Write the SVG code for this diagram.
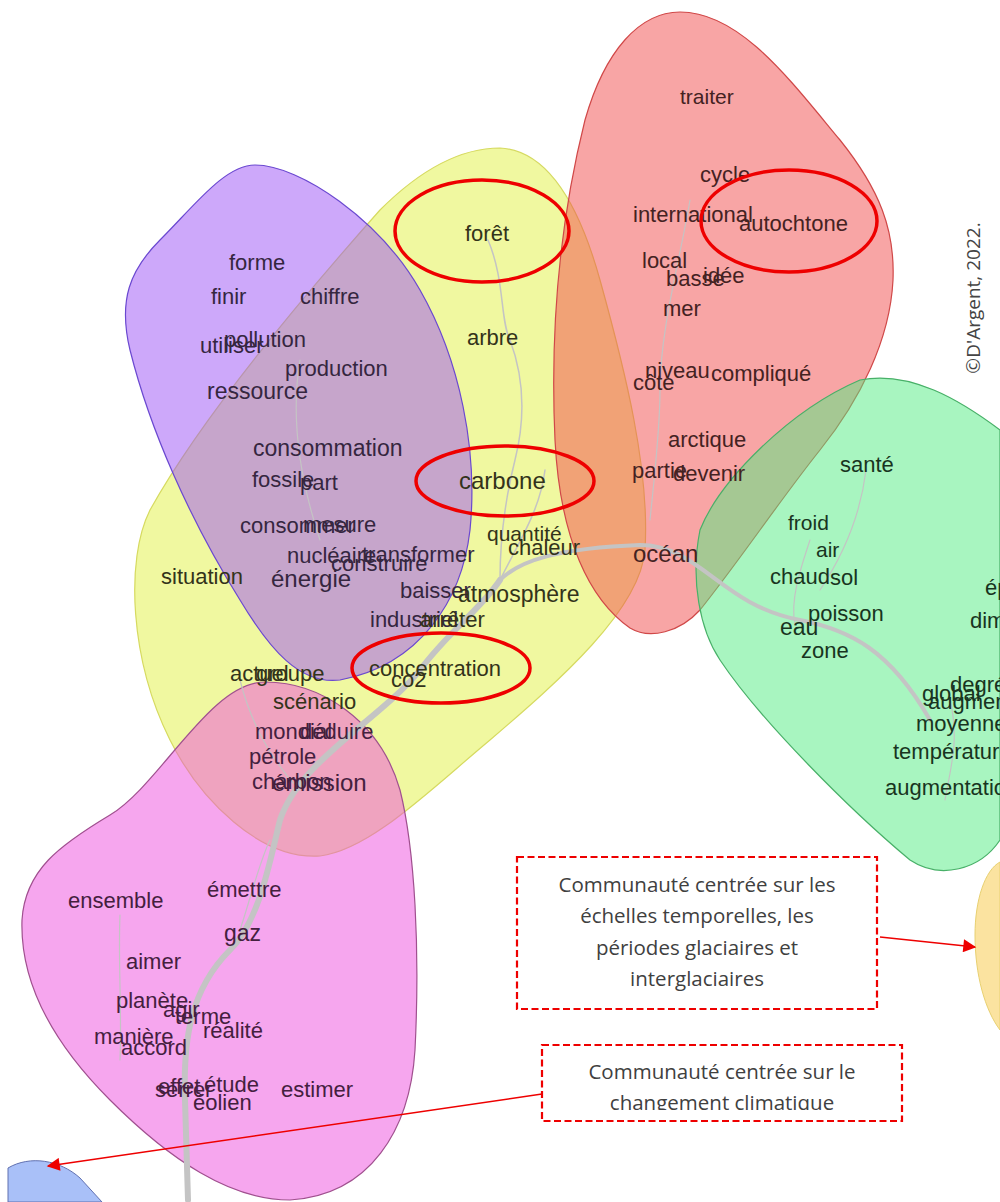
<svg xmlns="http://www.w3.org/2000/svg" width="1000" height="1202" viewBox="0 0 1000 1202">
<defs>
<style>
.b{fill-opacity:0.5;stroke-width:1.2}
.w{font-family:"Liberation Sans",Arial,sans-serif;font-size:22px}
.pu{fill:#35263f}.ye{fill:#33331a}.re{fill:#442222}.gr{fill:#183420}.pk{fill:#44203e}
.e{fill:none;stroke:#c4c4c4;stroke-linecap:round}
.ring{fill:none;stroke:#ee0000;stroke-width:3.5}
.box{fill:#fff;stroke:#ee0000;stroke-width:2.2;stroke-dasharray:7,3.5}
.bt{font-family:"Open Sans","Noto Sans",sans-serif;font-size:20.5px;fill:#404040;text-anchor:middle}
.arr{stroke:#ee0000;stroke-width:1.5;fill:none}
</style>
<marker id="ah" viewBox="0 0 10 10" refX="9" refY="5" markerWidth="15" markerHeight="13" orient="auto" markerUnits="userSpaceOnUse">
<path d="M0,0 L10,5 L0,10 Z" fill="#ee0000"/>
</marker>
<clipPath id="c2"><rect x="540" y="1040" width="370" height="70"/></clipPath>
</defs>
<rect width="1000" height="1202" fill="#fff"/>

<g id="blobs">
<path id="blob-yellow" class="b" fill="#e1f141" stroke="#d6da60" d="M500,148 C540,150 575,190 600,280 C625,370 650,470 645,550 C640,610 560,680 490,740 C430,790 370,850 320,856 C260,860 200,800 170,740 C130,660 125,560 150,510 C200,420 300,300 380,210 C420,170 460,148 500,148 Z"/>
<path id="blob-purple" class="b" fill="#9b51f5" stroke="#6a48d0" d="M255,165 C300,165 380,220 420,290 C460,360 478,450 470,530 C462,600 420,665 340,680 C300,685 270,650 240,600 C190,520 150,430 130,350 C118,300 130,270 160,240 C195,205 225,165 255,165 Z"/>
<path id="blob-red" class="b" fill="#f14b4b" stroke="#d04848" d="M680,12 C740,12 790,80 840,140 C880,190 895,230 893,280 C890,340 860,400 820,450 C780,500 740,560 700,610 C680,632 650,640 630,628 C590,600 560,540 555,440 C550,330 560,220 585,120 C605,50 640,12 680,12 Z"/>
<path id="blob-green" class="b" fill="#51eb81" stroke="#48b068" d="M700,530 C720,480 790,410 860,380 C910,370 960,400 1000,430 L1000,840 C980,870 940,880 910,860 C850,810 760,720 720,660 C700,630 690,580 700,530 Z"/>
<path id="blob-pink" class="b" fill="#ed4ddd" stroke="#a0508f" d="M265,682 C320,682 380,720 400,790 C415,850 420,950 415,1050 C410,1130 370,1195 290,1200 C230,1200 170,1160 110,1100 C50,1040 20,980 22,920 C25,870 60,845 110,815 C160,785 210,682 265,682 Z"/>
<path id="blob-orange" fill="#fbe3a0" stroke="#e8d070" stroke-width="1" d="M1000,862 C985,870 975,900 975,935 C975,975 985,1010 1000,1030 Z"/>
<path id="blob-blue" fill="#a9c0f8" stroke="#6070b0" stroke-width="1" d="M8,1168 C30,1155 60,1160 80,1178 L102,1202 L8,1202 Z"/>
</g>

<g id="edges">
<path class="e" stroke-width="6" d="M188,1200 L185,1100 C183,1040 190,990 230,950 C260,920 270,860 280,820 C300,760 380,720 420,670 C450,630 480,610 500,580"/>
<path class="e" stroke-width="4" d="M500,580 C520,560 560,548 640,545 C700,545 720,605 800,620 C850,630 890,650 930,720"/>
<path class="e" stroke-width="1.5" d="M488,240 C505,280 500,320 510,340 C525,380 525,420 515,460 C505,500 500,540 500,580"/>
<path class="e" stroke-width="1.5" d="M500,580 C520,540 540,510 545,470"/>
<path class="e" stroke-width="1.2" d="M120,915 C118,960 122,1010 120,1060"/>
<path class="e" stroke-width="1.2" d="M240,680 C250,720 270,760 300,790"/>
<path class="e" stroke-width="1.2" d="M270,840 C260,860 250,900 240,930"/>
<path class="e" stroke-width="1.2" d="M810,540 C800,570 790,600 795,625"/>
<path class="e" stroke-width="1.2" d="M866,470 C860,520 840,560 820,590"/>
<path class="e" stroke-width="1.2" d="M950,700 C960,740 950,770 945,800"/>
<path class="e" stroke-width="1.2" d="M690,200 C680,260 660,330 660,390 C660,430 655,470 650,520"/>
<path class="e" stroke-width="1.2" d="M300,360 C290,420 300,480 320,540"/>
</g>

<g id="words-purple" class="w pu">
<text x="229" y="270">forme</text>
<text x="211" y="304">finir</text>
<text x="300" y="304">chiffre</text>
<text x="200" y="353">utiliser</text>
<text x="224" y="347">pollution</text>
<text x="285" y="376">production</text>
<text x="207" y="399" font-size="23">ressource</text>
<text x="253" y="456" font-size="23">consommation</text>
<text x="252" y="487">fossile</text>
<text x="300" y="490">part</text>
<text x="240" y="533">consommer</text>
<text x="303" y="532">mesure</text>
<text x="287" y="563">nucléaire</text>
<text x="362" y="562">transformer</text>
<text x="331" y="571">construire</text>
<text x="271" y="587" font-size="24">énergie</text>
<text x="400" y="598">baisser</text>
<text x="370" y="627">industriel</text>
</g>

<g id="words-yellow" class="w ye">
<text x="465" y="241">forêt</text>
<text x="467" y="345">arbre</text>
<text x="459" y="489" font-size="24">carbone</text>
<text x="487" y="541" font-size="21">quantité</text>
<text x="508" y="555">chaleur</text>
<text x="458" y="602" font-size="23">atmosphère</text>
<text x="420" y="627">arrêter</text>
<text x="161" y="584">situation</text>
<text x="230" y="681">actuel</text>
<text x="256" y="681">groupe</text>
<text x="369" y="676">concentration</text>
<text x="391" y="687">co2</text>
<text x="273" y="709">scénario</text>
</g>

<g id="words-pink" class="w pk">
<text x="255" y="739">mondial</text>
<text x="300" y="739">déduire</text>
<text x="249" y="764">pétrole</text>
<text x="252" y="789">charbon</text>
<text x="272" y="791" font-size="24">émission</text>
<text x="207" y="897">émettre</text>
<text x="68" y="908">ensemble</text>
<text x="224" y="941" font-size="23">gaz</text>
<text x="126" y="969">aimer</text>
<text x="116" y="1008">planète</text>
<text x="163" y="1017">agir</text>
<text x="175" y="1024">terme</text>
<text x="203" y="1038">réalité</text>
<text x="94" y="1044">manière</text>
<text x="121" y="1055">accord</text>
<text x="158" y="1094">effet</text>
<text x="155" y="1097">serrer</text>
<text x="204" y="1092">étude</text>
<text x="281" y="1097">estimer</text>
<text x="193" y="1110">éolien</text>
</g>

<g id="words-red" class="w re">
<text x="680" y="104" font-size="21">traiter</text>
<text x="700" y="182">cycle</text>
<text x="633" y="222">international</text>
<text x="739" y="231">autochtone</text>
<text x="642" y="268">local</text>
<text x="666" y="286">basse</text>
<text x="703" y="283">idée</text>
<text x="663" y="316">mer</text>
<text x="645" y="378">niveau</text>
<text x="633" y="390">côte</text>
<text x="711" y="381">compliqué</text>
<text x="668" y="447">arctique</text>
<text x="632" y="478">partie</text>
<text x="673" y="481">devenir</text>
<text x="633" y="562" font-size="24">océan</text>
</g>

<g id="words-green" class="w gr">
<text x="840" y="472">santé</text>
<text x="788" y="530" font-size="21">froid</text>
<text x="816" y="557" font-size="21">air</text>
<text x="770" y="584">chaud</text>
<text x="830" y="585">sol</text>
<text x="808" y="621">poisson</text>
<text x="780" y="635" font-size="23">eau</text>
<text x="801" y="658">zone</text>
<text x="985" y="595">ép</text>
<text x="970" y="628">dim</text>
<text x="950" y="692">degré</text>
<text x="922" y="701">global</text>
<text x="928" y="709">augmenter</text>
<text x="916" y="731">moyenne</text>
<text x="893" y="759">température</text>
<text x="885" y="795">augmentation</text>
</g>

<g id="highlights">
<ellipse class="ring" cx="482" cy="231" rx="87" ry="51"/>
<ellipse class="ring" cx="789" cy="221" rx="88" ry="51"/>
<ellipse class="ring" cx="505" cy="481" rx="89" ry="35"/>
<ellipse class="ring" cx="441" cy="668" rx="89" ry="35"/>
</g>

<g id="connectors">
<line class="arr" x1="880" y1="937" x2="975" y2="947" marker-end="url(#ah)"/>
<line class="arr" x1="542" y1="1094" x2="48" y2="1166" marker-end="url(#ah)"/>
</g>

<g id="note-glacial">
<rect class="box" x="517" y="857" width="360" height="152"/>
<text class="bt" x="697" y="892">Communauté centrée sur les</text>
<text class="bt" x="697" y="923">échelles temporelles, les</text>
<text class="bt" x="697" y="955">périodes glaciaires et</text>
<text class="bt" x="697" y="986">interglaciaires</text>
</g>

<g id="note-climate">
<rect class="box" x="542" y="1045" width="360" height="76"/>
<g clip-path="url(#c2)">
<text class="bt" x="722" y="1079">Communauté centrée sur le</text>
<text class="bt" x="722" y="1110">changement climatique</text>
</g>
</g>

<text id="copyright" transform="translate(980,298) rotate(-90)" text-anchor="middle" font-family="'Open Sans','Noto Sans',sans-serif" font-size="19" fill="#444">©D'Argent, 2022.</text>
</svg>
